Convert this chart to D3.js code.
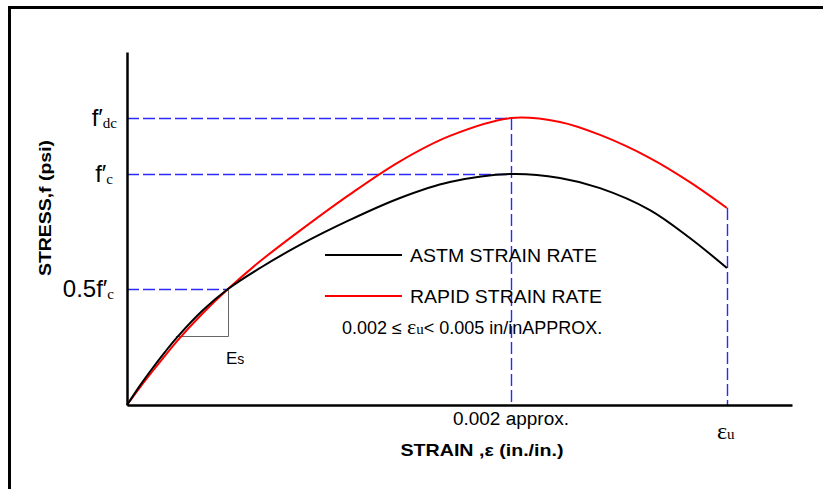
<!DOCTYPE html>
<html>
<head>
<meta charset="utf-8">
<script src="https://cdn.jsdelivr.net/npm/d3@7"></script>
<style>
body { margin: 0; background: #fff; }
text { font-family: "Liberation Sans", Arial, sans-serif; }
</style>
</head>
<body>
<svg id="chart" width="823" height="489"></svg>
<script>
const svg = d3.select('#chart')
const blu = "#2a2aff"

// strain (in./in.) vs stress (fraction of f'c)
const strain = [0, 0.0000656, 0.0001318, 0.0001974, 0.000263, 0.0003948, 0.000526, 0.000693, 0.000901, 0.001161, 0.001422, 0.001682, 0.002, 0.002255, 0.002464, 0.002724, 0.002932, 0.003125]
const astm =   [0, 0.082, 0.158, 0.229, 0.295, 0.410, 0.502, 0.593, 0.693, 0.801, 0.896, 0.965, 1.0, 0.983, 0.939, 0.844, 0.723, 0.593]
const rapid =  [0, 0.074, 0.145, 0.213, 0.279, 0.397, 0.502, 0.622, 0.755, 0.912, 1.055, 1.165, 1.242, 1.225, 1.169, 1.069, 0.965, 0.853]

const epsPeak = 0.002
const epsU = 0.003125
const fdc = 1.242
const fc = 1.0
const fHalf = 0.5
const epsEs = 0.00026 // start of the Es triangle
const epsHalf = 0.000526

const x = d3.scaleLinear().domain([0, 0.003464]).range([127, 792])
const y = d3.scaleLinear().domain([0, 1.528]).range([405, 52])
const px = v => Math.round(v) + 0.5

// cornice
svg.append("line").attr("x1", 9.5).attr("x2", 9.5).attr("y1", 6).attr("y2", 489)
  .attr("stroke", "#000").attr("stroke-width", 3)
svg.append("line").attr("x1", 8).attr("x2", 823).attr("y1", 7.5).attr("y2", 7.5)
  .attr("stroke", "#000").attr("stroke-width", 3)

// linee tratteggiate
const dash = "12,4"
function hdash(v, e) {
  svg.append("line").attr("x1", x(0)).attr("x2", x(e)).attr("y1", px(y(v))).attr("y2", px(y(v)))
    .attr("stroke", blu).attr("stroke-width", 1.4).attr("stroke-dasharray", dash)
}
function vdash(e, v) {
  svg.append("line").attr("x1", px(x(e))).attr("x2", px(x(e))).attr("y1", y(v)).attr("y2", y(0))
    .attr("stroke", blu).attr("stroke-width", 1.4).attr("stroke-dasharray", dash)
}
hdash(fdc, epsPeak)
hdash(fc, epsPeak)
hdash(fHalf, epsHalf)
vdash(epsPeak, fdc)
vdash(epsU, rapid[rapid.length - 1])

// triangolo Es
svg.append("path")
  .attr("d", `M${x(epsEs) - 1},${px(y(0.306) + 2)} H${px(x(epsHalf))} V${y(fHalf)}`)
  .attr("fill", "none").attr("stroke", "#666").attr("stroke-width", 1)

// curve
const line = d3.line().curve(d3.curveCatmullRom.alpha(0.5))
svg.append("path").datum(strain.map((d, i) => [x(d), y(rapid[i])]))
  .attr("d", line).attr("fill", "none").attr("stroke", "#ff0000").attr("stroke-width", 2)
svg.append("path").datum(strain.map((d, i) => [x(d), y(astm[i])]))
  .attr("d", line).attr("fill", "none").attr("stroke", "#000").attr("stroke-width", 2)

// assi
svg.append("g").attr("transform", `translate(0,${y(0)})`)
  .call(d3.axisBottom(x).tickValues([]).tickSizeOuter(0))
  .select(".domain").attr("stroke-width", 2.5)
svg.append("g").attr("transform", `translate(${x(0)},0)`)
  .call(d3.axisLeft(y).tickValues([]).tickSizeOuter(0))
  .select(".domain").attr("stroke-width", 2.5)

// etichette asse y
function flabel(v, pre, sub, xr) {
  const t = svg.append("text").attr("x", xr).attr("y", y(v) + 8).attr("text-anchor", "end")
  t.append("tspan").attr("font-size", "24px").text(pre)
  t.append("tspan").attr("font-size", "15px").attr("dy", 2)
    .style("font-family", "'Liberation Serif', serif").text(sub)
}
flabel(fdc, "f\u2032", "dc", 117)
flabel(fc, "f\u2032", "c", 113)
flabel(fHalf, "0.5f\u2032", "c", 114)

// etichette asse x
svg.append("text").attr("x", x(epsPeak)).attr("y", 425).attr("text-anchor", "middle")
  .attr("font-size", "18px").attr("textLength", 116).attr("lengthAdjust", "spacingAndGlyphs")
  .text("0.002 approx.")
const eu = svg.append("text").attr("x", x(epsU) - 10).attr("y", 439)
  .style("font-family", "'Liberation Serif', serif")
eu.append("tspan").attr("font-size", "24px").text("\u03b5")
eu.append("tspan").attr("font-size", "15px").text("u")

svg.append("text").attr("x", 226).attr("y", 364).attr("font-size", "17px").text("E")
  .append("tspan").attr("font-size", "14px").text("s")

// titoli
svg.append("text").attr("x", 482).attr("y", 456).attr("text-anchor", "middle")
  .attr("font-size", "17px").attr("font-weight", "bold")
  .attr("textLength", 163).attr("lengthAdjust", "spacingAndGlyphs")
  .text("STRAIN ,\u03b5 (in./in.)")
svg.append("text").attr("transform", "translate(51,208) rotate(-90)").attr("text-anchor", "middle")
  .attr("font-size", "17px").attr("font-weight", "bold")
  .attr("textLength", 136).attr("lengthAdjust", "spacingAndGlyphs")
  .text("STRESS,f (psi)")

// legenda
const legend = [["ASTM STRAIN RATE", "#000", 255, 187], ["RAPID STRAIN RATE", "#ff0000", 296, 192]]
legend.forEach(l => {
  svg.append("line").attr("x1", 325).attr("x2", 402).attr("y1", l[2]).attr("y2", l[2])
    .attr("stroke", l[1]).attr("stroke-width", 2)
  svg.append("text").attr("x", 410).attr("y", l[2] + 7).attr("font-size", "18px")
    .attr("textLength", l[3]).attr("lengthAdjust", "spacingAndGlyphs").text(l[0])
})
const note = svg.append("text").attr("x", 342).attr("y", 334).attr("font-size", "18px")
note.append("tspan").text("0.002 \u2264 ")
note.append("tspan").style("font-family", "'Liberation Serif', serif").attr("font-size", "22px").text("\u03b5")
note.append("tspan").style("font-family", "'Liberation Serif', serif").attr("font-size", "15px").text("u")
note.append("tspan").text("< 0.005 in/inAPPROX.")
</script>
</body>
</html>
